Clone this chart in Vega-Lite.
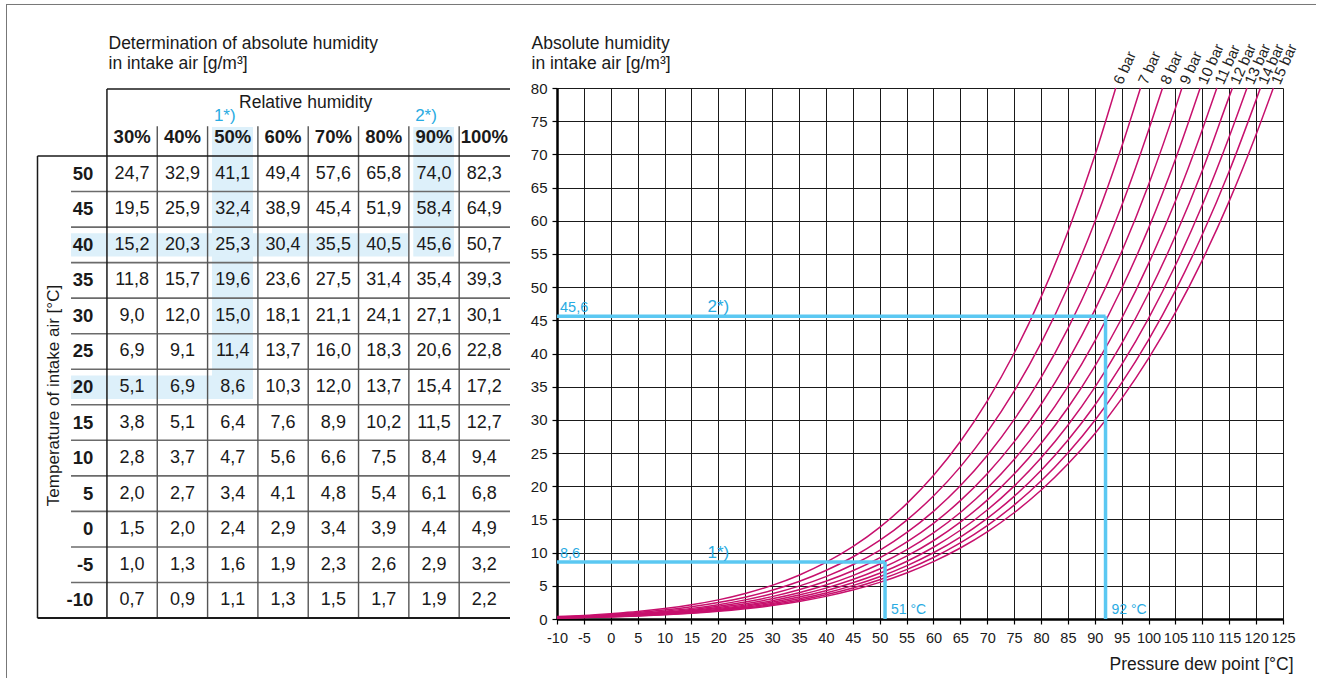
{
"$schema":"https://vega.github.io/schema/vega-lite/v6.json",
"padding":{"left":5,"top":3,"right":0,"bottom":0},
"bounds":"flush",
"spacing":47,
"background":"white",
"config":{"view":{"stroke":null},"font":"Liberation Sans","locale":{"number":{"decimal":",","thousands":".","grouping":[3],"currency":["","\u00a0€"],"minus":"-"}},
 "axis":{"labelColor":"#1a1a1a","domainColor":"#000000","domainWidth":2.5,"tickColor":"#000000","tickSize":5,"tickWidth":1.2,"gridColor":"#1a1a1a","gridWidth":1,"gridOpacity":1},
 "axisX":{"labelFontSize":14.5,"labelPadding":7},
 "axisY":{"labelFontSize":15,"labelPadding":5}},
"datasets":{
"table":[
{"t":50,"rh":30,"v":24.7},{"t":50,"rh":40,"v":32.9},{"t":50,"rh":50,"v":41.1},{"t":50,"rh":60,"v":49.4},{"t":50,"rh":70,"v":57.6},{"t":50,"rh":80,"v":65.8},{"t":50,"rh":90,"v":74.0},{"t":50,"rh":100,"v":82.3},
{"t":45,"rh":30,"v":19.5},{"t":45,"rh":40,"v":25.9},{"t":45,"rh":50,"v":32.4},{"t":45,"rh":60,"v":38.9},{"t":45,"rh":70,"v":45.4},{"t":45,"rh":80,"v":51.9},{"t":45,"rh":90,"v":58.4},{"t":45,"rh":100,"v":64.9},
{"t":40,"rh":30,"v":15.2},{"t":40,"rh":40,"v":20.3},{"t":40,"rh":50,"v":25.3},{"t":40,"rh":60,"v":30.4},{"t":40,"rh":70,"v":35.5},{"t":40,"rh":80,"v":40.5},{"t":40,"rh":90,"v":45.6},{"t":40,"rh":100,"v":50.7},
{"t":35,"rh":30,"v":11.8},{"t":35,"rh":40,"v":15.7},{"t":35,"rh":50,"v":19.6},{"t":35,"rh":60,"v":23.6},{"t":35,"rh":70,"v":27.5},{"t":35,"rh":80,"v":31.4},{"t":35,"rh":90,"v":35.4},{"t":35,"rh":100,"v":39.3},
{"t":30,"rh":30,"v":9.0},{"t":30,"rh":40,"v":12.0},{"t":30,"rh":50,"v":15.0},{"t":30,"rh":60,"v":18.1},{"t":30,"rh":70,"v":21.1},{"t":30,"rh":80,"v":24.1},{"t":30,"rh":90,"v":27.1},{"t":30,"rh":100,"v":30.1},
{"t":25,"rh":30,"v":6.9},{"t":25,"rh":40,"v":9.1},{"t":25,"rh":50,"v":11.4},{"t":25,"rh":60,"v":13.7},{"t":25,"rh":70,"v":16.0},{"t":25,"rh":80,"v":18.3},{"t":25,"rh":90,"v":20.6},{"t":25,"rh":100,"v":22.8},
{"t":20,"rh":30,"v":5.1},{"t":20,"rh":40,"v":6.9},{"t":20,"rh":50,"v":8.6},{"t":20,"rh":60,"v":10.3},{"t":20,"rh":70,"v":12.0},{"t":20,"rh":80,"v":13.7},{"t":20,"rh":90,"v":15.4},{"t":20,"rh":100,"v":17.2},
{"t":15,"rh":30,"v":3.8},{"t":15,"rh":40,"v":5.1},{"t":15,"rh":50,"v":6.4},{"t":15,"rh":60,"v":7.6},{"t":15,"rh":70,"v":8.9},{"t":15,"rh":80,"v":10.2},{"t":15,"rh":90,"v":11.5},{"t":15,"rh":100,"v":12.7},
{"t":10,"rh":30,"v":2.8},{"t":10,"rh":40,"v":3.7},{"t":10,"rh":50,"v":4.7},{"t":10,"rh":60,"v":5.6},{"t":10,"rh":70,"v":6.6},{"t":10,"rh":80,"v":7.5},{"t":10,"rh":90,"v":8.4},{"t":10,"rh":100,"v":9.4},
{"t":5,"rh":30,"v":2.0},{"t":5,"rh":40,"v":2.7},{"t":5,"rh":50,"v":3.4},{"t":5,"rh":60,"v":4.1},{"t":5,"rh":70,"v":4.8},{"t":5,"rh":80,"v":5.4},{"t":5,"rh":90,"v":6.1},{"t":5,"rh":100,"v":6.8},
{"t":0,"rh":30,"v":1.5},{"t":0,"rh":40,"v":2.0},{"t":0,"rh":50,"v":2.4},{"t":0,"rh":60,"v":2.9},{"t":0,"rh":70,"v":3.4},{"t":0,"rh":80,"v":3.9},{"t":0,"rh":90,"v":4.4},{"t":0,"rh":100,"v":4.9},
{"t":-5,"rh":30,"v":1.0},{"t":-5,"rh":40,"v":1.3},{"t":-5,"rh":50,"v":1.6},{"t":-5,"rh":60,"v":1.9},{"t":-5,"rh":70,"v":2.3},{"t":-5,"rh":80,"v":2.6},{"t":-5,"rh":90,"v":2.9},{"t":-5,"rh":100,"v":3.2},
{"t":-10,"rh":30,"v":0.7},{"t":-10,"rh":40,"v":0.9},{"t":-10,"rh":50,"v":1.1},{"t":-10,"rh":60,"v":1.3},{"t":-10,"rh":70,"v":1.5},{"t":-10,"rh":80,"v":1.7},{"t":-10,"rh":90,"v":1.9},{"t":-10,"rh":100,"v":2.2}
],
"temps":[{"t":50},{"t":45},{"t":40},{"t":35},{"t":30},{"t":25},{"t":20},{"t":15},{"t":10},{"t":5},{"t":0},{"t":-5},{"t":-10}],
"cols":[{"rh":30,"label":"30%"},{"rh":40,"label":"40%"},{"rh":50,"label":"50%"},{"rh":60,"label":"60%"},{"rh":70,"label":"70%"},{"rh":80,"label":"80%"},{"rh":90,"label":"90%"},{"rh":100,"label":"100%"}],
"examples":[{"id":"1*)","rh":50,"t":20,"hum":8.6,"dew":51,"dewLabel":"51 °C"},{"id":"2*)","rh":90,"t":40,"hum":45.6,"dew":92,"dewLabel":"92 °C"}],
"curves":[
{"p":6,"T":-10,"h":0.36},{"p":6,"T":-5,"h":0.54},{"p":6,"T":0,"h":0.81},{"p":6,"T":5,"h":1.13},{"p":6,"T":10,"h":1.57},{"p":6,"T":15,"h":2.14},{"p":6,"T":20,"h":2.88},{"p":6,"T":25,"h":3.84},{"p":6,"T":30,"h":5.06},{"p":6,"T":35,"h":6.6},{"p":6,"T":40,"h":8.52},{"p":6,"T":45,"h":10.89},{"p":6,"T":50,"h":13.8},{"p":6,"T":55,"h":17.35},{"p":6,"T":60,"h":21.62},{"p":6,"T":65,"h":26.75},{"p":6,"T":70,"h":32.84},{"p":6,"T":75,"h":40.04},{"p":6,"T":80,"h":48.49},{"p":6,"T":85,"h":58.35},{"p":6,"T":90,"h":69.79},{"p":6,"T":93.9,"h":80},
{"p":7,"T":-10,"h":0.31},{"p":7,"T":-5,"h":0.46},{"p":7,"T":0,"h":0.69},{"p":7,"T":5,"h":0.97},{"p":7,"T":10,"h":1.34},{"p":7,"T":15,"h":1.83},{"p":7,"T":20,"h":2.47},{"p":7,"T":25,"h":3.29},{"p":7,"T":30,"h":4.34},{"p":7,"T":35,"h":5.65},{"p":7,"T":40,"h":7.3},{"p":7,"T":45,"h":9.34},{"p":7,"T":50,"h":11.83},{"p":7,"T":55,"h":14.87},{"p":7,"T":60,"h":18.53},{"p":7,"T":65,"h":22.92},{"p":7,"T":70,"h":28.15},{"p":7,"T":75,"h":34.32},{"p":7,"T":80,"h":41.56},{"p":7,"T":85,"h":50.01},{"p":7,"T":90,"h":59.82},{"p":7,"T":95,"h":71.14},{"p":7,"T":98.5,"h":80},
{"p":8,"T":-10,"h":0.27},{"p":8,"T":-5,"h":0.41},{"p":8,"T":0,"h":0.61},{"p":8,"T":5,"h":0.85},{"p":8,"T":10,"h":1.18},{"p":8,"T":15,"h":1.6},{"p":8,"T":20,"h":2.16},{"p":8,"T":25,"h":2.88},{"p":8,"T":30,"h":3.8},{"p":8,"T":35,"h":4.95},{"p":8,"T":40,"h":6.39},{"p":8,"T":45,"h":8.17},{"p":8,"T":50,"h":10.35},{"p":8,"T":55,"h":13.01},{"p":8,"T":60,"h":16.22},{"p":8,"T":65,"h":20.06},{"p":8,"T":70,"h":24.63},{"p":8,"T":75,"h":30.03},{"p":8,"T":80,"h":36.37},{"p":8,"T":85,"h":43.76},{"p":8,"T":90,"h":52.35},{"p":8,"T":95,"h":62.25},{"p":8,"T":100,"h":73.62},{"p":8,"T":102.6,"h":80},
{"p":9,"T":-10,"h":0.24},{"p":9,"T":-5,"h":0.36},{"p":9,"T":0,"h":0.54},{"p":9,"T":5,"h":0.76},{"p":9,"T":10,"h":1.04},{"p":9,"T":15,"h":1.43},{"p":9,"T":20,"h":1.92},{"p":9,"T":25,"h":2.56},{"p":9,"T":30,"h":3.37},{"p":9,"T":35,"h":4.4},{"p":9,"T":40,"h":5.68},{"p":9,"T":45,"h":7.26},{"p":9,"T":50,"h":9.2},{"p":9,"T":55,"h":11.57},{"p":9,"T":60,"h":14.41},{"p":9,"T":65,"h":17.83},{"p":9,"T":70,"h":21.89},{"p":9,"T":75,"h":26.69},{"p":9,"T":80,"h":32.32},{"p":9,"T":85,"h":38.9},{"p":9,"T":90,"h":46.53},{"p":9,"T":95,"h":55.33},{"p":9,"T":100,"h":65.44},{"p":9,"T":105,"h":76.97},{"p":9,"T":106.2,"h":80},
{"p":10,"T":-10,"h":0.21},{"p":10,"T":-5,"h":0.33},{"p":10,"T":0,"h":0.49},{"p":10,"T":5,"h":0.68},{"p":10,"T":10,"h":0.94},{"p":10,"T":15,"h":1.28},{"p":10,"T":20,"h":1.73},{"p":10,"T":25,"h":2.3},{"p":10,"T":30,"h":3.04},{"p":10,"T":35,"h":3.96},{"p":10,"T":40,"h":5.11},{"p":10,"T":45,"h":6.54},{"p":10,"T":50,"h":8.28},{"p":10,"T":55,"h":10.41},{"p":10,"T":60,"h":12.97},{"p":10,"T":65,"h":16.05},{"p":10,"T":70,"h":19.7},{"p":10,"T":75,"h":24.02},{"p":10,"T":80,"h":29.09},{"p":10,"T":85,"h":35.01},{"p":10,"T":90,"h":41.88},{"p":10,"T":95,"h":49.8},{"p":10,"T":100,"h":58.89},{"p":10,"T":105,"h":69.28},{"p":10,"T":109.6,"h":80},
{"p":11,"T":-10,"h":0.19},{"p":11,"T":-5,"h":0.3},{"p":11,"T":0,"h":0.44},{"p":11,"T":5,"h":0.62},{"p":11,"T":10,"h":0.85},{"p":11,"T":15,"h":1.17},{"p":11,"T":20,"h":1.57},{"p":11,"T":25,"h":2.09},{"p":11,"T":30,"h":2.76},{"p":11,"T":35,"h":3.6},{"p":11,"T":40,"h":4.65},{"p":11,"T":45,"h":5.94},{"p":11,"T":50,"h":7.53},{"p":11,"T":55,"h":9.46},{"p":11,"T":60,"h":11.79},{"p":11,"T":65,"h":14.59},{"p":11,"T":70,"h":17.91},{"p":11,"T":75,"h":21.84},{"p":11,"T":80,"h":26.45},{"p":11,"T":85,"h":31.83},{"p":11,"T":90,"h":38.07},{"p":11,"T":95,"h":45.27},{"p":11,"T":100,"h":53.54},{"p":11,"T":105,"h":62.98},{"p":11,"T":110,"h":73.71},{"p":11,"T":112.7,"h":80},
{"p":12,"T":-10,"h":0.18},{"p":12,"T":-5,"h":0.27},{"p":12,"T":0,"h":0.4},{"p":12,"T":5,"h":0.57},{"p":12,"T":10,"h":0.78},{"p":12,"T":15,"h":1.07},{"p":12,"T":20,"h":1.44},{"p":12,"T":25,"h":1.92},{"p":12,"T":30,"h":2.53},{"p":12,"T":35,"h":3.3},{"p":12,"T":40,"h":4.26},{"p":12,"T":45,"h":5.45},{"p":12,"T":50,"h":6.9},{"p":12,"T":55,"h":8.67},{"p":12,"T":60,"h":10.81},{"p":12,"T":65,"h":13.37},{"p":12,"T":70,"h":16.42},{"p":12,"T":75,"h":20.02},{"p":12,"T":80,"h":24.24},{"p":12,"T":85,"h":29.18},{"p":12,"T":90,"h":34.9},{"p":12,"T":95,"h":41.5},{"p":12,"T":100,"h":49.08},{"p":12,"T":105,"h":57.73},{"p":12,"T":110,"h":67.57},{"p":12,"T":115,"h":78.7},{"p":12,"T":115.6,"h":80},
{"p":13,"T":-10,"h":0.16},{"p":13,"T":-5,"h":0.25},{"p":13,"T":0,"h":0.37},{"p":13,"T":5,"h":0.52},{"p":13,"T":10,"h":0.72},{"p":13,"T":15,"h":0.99},{"p":13,"T":20,"h":1.33},{"p":13,"T":25,"h":1.77},{"p":13,"T":30,"h":2.34},{"p":13,"T":35,"h":3.04},{"p":13,"T":40,"h":3.93},{"p":13,"T":45,"h":5.03},{"p":13,"T":50,"h":6.37},{"p":13,"T":55,"h":8.01},{"p":13,"T":60,"h":9.98},{"p":13,"T":65,"h":12.34},{"p":13,"T":70,"h":15.16},{"p":13,"T":75,"h":18.48},{"p":13,"T":80,"h":22.38},{"p":13,"T":85,"h":26.93},{"p":13,"T":90,"h":32.21},{"p":13,"T":95,"h":38.31},{"p":13,"T":100,"h":45.3},{"p":13,"T":105,"h":53.29},{"p":13,"T":110,"h":62.37},{"p":13,"T":115,"h":72.65},{"p":13,"T":118.3,"h":80},
{"p":14,"T":-10,"h":0.15},{"p":14,"T":-5,"h":0.23},{"p":14,"T":0,"h":0.35},{"p":14,"T":5,"h":0.49},{"p":14,"T":10,"h":0.67},{"p":14,"T":15,"h":0.92},{"p":14,"T":20,"h":1.24},{"p":14,"T":25,"h":1.65},{"p":14,"T":30,"h":2.17},{"p":14,"T":35,"h":2.83},{"p":14,"T":40,"h":3.65},{"p":14,"T":45,"h":4.67},{"p":14,"T":50,"h":5.92},{"p":14,"T":55,"h":7.44},{"p":14,"T":60,"h":9.27},{"p":14,"T":65,"h":11.46},{"p":14,"T":70,"h":14.07},{"p":14,"T":75,"h":17.16},{"p":14,"T":80,"h":20.78},{"p":14,"T":85,"h":25.01},{"p":14,"T":90,"h":29.91},{"p":14,"T":95,"h":35.57},{"p":14,"T":100,"h":42.07},{"p":14,"T":105,"h":49.48},{"p":14,"T":110,"h":57.92},{"p":14,"T":115,"h":67.46},{"p":14,"T":120,"h":78.21},{"p":14,"T":120.8,"h":80},
{"p":15,"T":-10,"h":0.14},{"p":15,"T":-5,"h":0.22},{"p":15,"T":0,"h":0.32},{"p":15,"T":5,"h":0.45},{"p":15,"T":10,"h":0.63},{"p":15,"T":15,"h":0.86},{"p":15,"T":20,"h":1.15},{"p":15,"T":25,"h":1.54},{"p":15,"T":30,"h":2.02},{"p":15,"T":35,"h":2.64},{"p":15,"T":40,"h":3.41},{"p":15,"T":45,"h":4.36},{"p":15,"T":50,"h":5.52},{"p":15,"T":55,"h":6.94},{"p":15,"T":60,"h":8.65},{"p":15,"T":65,"h":10.7},{"p":15,"T":70,"h":13.13},{"p":15,"T":75,"h":16.01},{"p":15,"T":80,"h":19.39},{"p":15,"T":85,"h":23.34},{"p":15,"T":90,"h":27.92},{"p":15,"T":95,"h":33.2},{"p":15,"T":100,"h":39.26},{"p":15,"T":105,"h":46.18},{"p":15,"T":110,"h":54.06},{"p":15,"T":115,"h":62.96},{"p":15,"T":120,"h":73.0},{"p":15,"T":123.2,"h":80}
],
"barLabels":[{"p":6,"T":93.9,"label":"6 bar"},{"p":7,"T":98.5,"label":"7 bar"},{"p":8,"T":102.6,"label":"8 bar"},{"p":9,"T":106.2,"label":"9 bar"},{"p":10,"T":109.6,"label":"10 bar"},{"p":11,"T":112.7,"label":"11 bar"},{"p":12,"T":115.6,"label":"12 bar"},{"p":13,"T":118.3,"label":"13 bar"},{"p":14,"T":120.8,"label":"14 bar"},{"p":15,"T":123.2,"label":"15 bar"}]
},
"hconcat":[
{
"width":473,"height":531,
"layer":[
{"data":{"values":[{}]},"mark":{"type":"rect","color":"#ddf0fa"},
 "encoding":{
  "x":{"datum":45.88,"type":"quantitative","scale":{"domain":[11.1,105.1],"nice":false,"zero":false},
   "axis":{"orient":"top","domain":false,"ticks":false,"labels":false,"grid":false,"title":["Determination of absolute humidity","in intake air [g/m³]"],"titleX":71,"titleY":-40,"titleAlign":"left","titleAngle":0,"titleBaseline":"alphabetic","titleFontSize":17.5,"titleFontWeight":"normal","titleColor":"#1a1a1a","titleLineHeight":20}},
  "x2":{"datum":54.03},
  "y":{"datum":18.3,"type":"quantitative","scale":{"domain":[-12.64,62.07],"nice":false,"zero":false},
   "axis":{"orient":"left","domain":false,"ticks":false,"labels":false,"grid":false,"title":"Temperature of intake air [°C]","titleX":16,"titleY":307,"titleAngle":-90,"titleAlign":"center","titleBaseline":"middle","titleFontSize":17,"titleFontWeight":"normal","titleColor":"#1a1a1a"}},
  "y2":{"datum":56.58}}},
{"data":{"values":[{}]},"mark":{"type":"rect","color":"#ddf0fa"},
 "encoding":{"x":{"datum":85.88,"type":"quantitative"},"x2":{"datum":93.97},"y":{"datum":38.38,"type":"quantitative"},"y2":{"datum":56.58}}},
{"data":{"values":[{}]},"mark":{"type":"rect","color":"#ddf0fa"},
 "encoding":{"x":{"datum":17.86,"type":"quantitative"},"x2":{"datum":84.83},"y":{"datum":38.38,"type":"quantitative"},"y2":{"datum":41.62}}},
{"data":{"values":[{}]},"mark":{"type":"rect","color":"#ddf0fa"},
 "encoding":{"x":{"datum":17.86,"type":"quantitative"},"x2":{"datum":45.88},"y":{"datum":18.3,"type":"quantitative"},"y2":{"datum":21.62}}},
{"data":{"name":"temps"},"transform":[{"filter":"datum.t > -10"}],"mark":{"type":"rule","color":"#6b6b6b","strokeWidth":1.6,"yOffset":17.77},
 "encoding":{"y":{"field":"t","type":"quantitative"},"x":{"datum":17.86,"type":"quantitative"},"x2":{"datum":105.1}}},
{"data":{"name":"cols"},"transform":[{"filter":"datum.rh > 30"}],"mark":{"type":"rule","color":"#555555","strokeWidth":1.4,"xOffset":-25.16},
 "encoding":{"x":{"field":"rh","type":"quantitative"},"y":{"datum":-12.5,"type":"quantitative"},"y2":{"datum":56.7}}},
{"data":{"values":[{}]},"mark":{"type":"rule","color":"#1a1a1a","strokeWidth":1.5},
 "encoding":{"x":{"datum":11.2,"type":"quantitative"},"x2":{"datum":105.1},"y":{"datum":52.5,"type":"quantitative"}}},
{"data":{"values":[{}]},"mark":{"type":"rule","color":"#1a1a1a","strokeWidth":2},
 "encoding":{"x":{"datum":11.2,"type":"quantitative"},"x2":{"datum":105.1},"y":{"datum":-12.5,"type":"quantitative"}}},
{"data":{"values":[{}]},"mark":{"type":"rule","color":"#1a1a1a","strokeWidth":1.5},
 "encoding":{"x":{"datum":11.2,"type":"quantitative"},"y":{"datum":-12.5,"type":"quantitative"},"y2":{"datum":52.5}}},
{"data":{"values":[{}]},"mark":{"type":"rule","color":"#1a1a1a","strokeWidth":1.5},
 "encoding":{"x":{"datum":25,"type":"quantitative"},"x2":{"datum":105.1},"y":{"datum":61.93,"type":"quantitative"}}},
{"data":{"values":[{}]},"mark":{"type":"rule","color":"#1a1a1a","strokeWidth":1.5},
 "encoding":{"x":{"datum":25,"type":"quantitative"},"y":{"datum":-12.5,"type":"quantitative"},"y2":{"datum":61.93}}},
{"data":{"name":"table"},"mark":{"type":"text","fontSize":18,"color":"#1a1a1a","baseline":"middle"},
 "encoding":{"x":{"field":"rh","type":"quantitative"},"y":{"field":"t","type":"quantitative"},"text":{"field":"v","type":"quantitative","format":".1f"}}},
{"data":{"name":"temps"},"mark":{"type":"text","fontSize":18.5,"fontWeight":"bold","align":"right","baseline":"middle","color":"#1a1a1a"},
 "encoding":{"x":{"datum":22.3,"type":"quantitative"},"y":{"field":"t","type":"quantitative"},"text":{"field":"t","type":"nominal"}}},
{"data":{"name":"cols"},"mark":{"type":"text","fontSize":18.5,"fontWeight":"bold","baseline":"middle","color":"#1a1a1a"},
 "encoding":{"x":{"field":"rh","type":"quantitative"},"y":{"datum":55.18,"type":"quantitative"},"text":{"field":"label","type":"nominal"}}},
{"data":{"values":[{}]},"mark":{"type":"text","fontSize":17.5,"baseline":"middle","color":"#1a1a1a","text":"Relative humidity"},
 "encoding":{"x":{"datum":64.5,"type":"quantitative"},"y":{"datum":59.9,"type":"quantitative"}}},
{"data":{"name":"examples"},"mark":{"type":"text","fontSize":17,"baseline":"middle","color":"#29abe2","dx":-8},
 "encoding":{"x":{"field":"rh","type":"quantitative"},"y":{"datum":58.1,"type":"quantitative"},"text":{"field":"id","type":"nominal"}}},
{"data":{"values":[{}]},"mark":{"type":"rule","color":"#777777","strokeWidth":1},
 "encoding":{"x":{"datum":4.94,"type":"quantitative"},"x2":{"datum":265.28},"y":{"datum":73.82,"type":"quantitative"}}},
{"data":{"values":[{}]},"mark":{"type":"rule","color":"#777777","strokeWidth":1},
 "encoding":{"x":{"datum":5.04,"type":"quantitative"},"y":{"datum":73.82,"type":"quantitative"},"y2":{"datum":-20.94}}}
]
},
{
"width":726,"height":531,
"layer":[
{"data":{"name":"curves"},"mark":{"type":"line","color":"#c7106d","strokeWidth":1.5,"interpolate":"monotone"},
 "encoding":{
  "x":{"field":"T","type":"quantitative","scale":{"domain":[-10,125],"nice":false,"zero":false},
   "axis":{"values":[-10,-5,0,5,10,15,20,25,30,35,40,45,50,55,60,65,70,75,80,85,90,95,100,105,110,115,120,125],"grid":true,"labelExpr":"'' + datum.value","labelFlush":false,"labelOverlap":false,"labelBound":false,"title":"Pressure dew point [°C]","titleX":736,"titleY":50,"titleAlign":"right","titleAngle":0,"titleBaseline":"alphabetic","titleFontSize":17.5,"titleFontWeight":"normal","titleColor":"#1a1a1a"}},
  "y":{"field":"h","type":"quantitative","scale":{"domain":[0,80],"nice":false,"zero":false},
   "axis":{"values":[0,5,10,15,20,25,30,35,40,45,50,55,60,65,70,75,80],"grid":true,"labelFlush":false,"labelOverlap":false,"labelBound":false,"title":["Absolute humidity","in intake air [g/m³]"],"titleX":-26,"titleY":-40,"titleAlign":"left","titleAngle":0,"titleBaseline":"alphabetic","titleFontSize":17.5,"titleFontWeight":"normal","titleColor":"#1a1a1a","titleLineHeight":20}},
  "detail":{"field":"p","type":"nominal"}}},
{"data":{"name":"examples"},"mark":{"type":"rule","color":"#5bc8f2","strokeWidth":3.5},
 "encoding":{
  "x":{"field":"dew","type":"quantitative",
   "axis":{"values":[-10,-5,0,5,10,15,20,25,30,35,40,45,50,55,60,65,70,75,80,85,90,95,100,105,110,115,120,125],"grid":true,"labelExpr":"'' + datum.value","labelFlush":false,"labelOverlap":false,"labelBound":false,"title":"Pressure dew point [°C]","titleX":736,"titleY":50,"titleAlign":"right","titleAngle":0,"titleBaseline":"alphabetic","titleFontSize":17.5,"titleFontWeight":"normal","titleColor":"#1a1a1a"}},
  "x2":{"datum":-10},
  "y":{"field":"hum","type":"quantitative",
   "axis":{"values":[0,5,10,15,20,25,30,35,40,45,50,55,60,65,70,75,80],"grid":true,"labelFlush":false,"labelOverlap":false,"labelBound":false,"title":["Absolute humidity","in intake air [g/m³]"],"titleX":-26,"titleY":-40,"titleAlign":"left","titleAngle":0,"titleBaseline":"alphabetic","titleFontSize":17.5,"titleFontWeight":"normal","titleColor":"#1a1a1a","titleLineHeight":20}}}},
{"data":{"name":"examples"},"mark":{"type":"rule","color":"#5bc8f2","strokeWidth":3.5},
 "encoding":{
  "x":{"field":"dew","type":"quantitative",
   "axis":{"values":[-10,-5,0,5,10,15,20,25,30,35,40,45,50,55,60,65,70,75,80,85,90,95,100,105,110,115,120,125],"grid":true,"labelExpr":"'' + datum.value","labelFlush":false,"labelOverlap":false,"labelBound":false,"title":"Pressure dew point [°C]","titleX":736,"titleY":50,"titleAlign":"right","titleAngle":0,"titleBaseline":"alphabetic","titleFontSize":17.5,"titleFontWeight":"normal","titleColor":"#1a1a1a"}},
  "y":{"field":"hum","type":"quantitative",
   "axis":{"values":[0,5,10,15,20,25,30,35,40,45,50,55,60,65,70,75,80],"grid":true,"labelFlush":false,"labelOverlap":false,"labelBound":false,"title":["Absolute humidity","in intake air [g/m³]"],"titleX":-26,"titleY":-40,"titleAlign":"left","titleAngle":0,"titleBaseline":"alphabetic","titleFontSize":17.5,"titleFontWeight":"normal","titleColor":"#1a1a1a","titleLineHeight":20}},
  "y2":{"datum":0}}},
{"data":{"name":"examples"},"mark":{"type":"text","align":"left","baseline":"alphabetic","dx":3,"dy":-4,"fontSize":14.5,"color":"#29abe2"},
 "encoding":{
  "x":{"datum":-10,"type":"quantitative",
   "axis":{"values":[-10,-5,0,5,10,15,20,25,30,35,40,45,50,55,60,65,70,75,80,85,90,95,100,105,110,115,120,125],"grid":true,"labelExpr":"'' + datum.value","labelFlush":false,"labelOverlap":false,"labelBound":false,"title":"Pressure dew point [°C]","titleX":736,"titleY":50,"titleAlign":"right","titleAngle":0,"titleBaseline":"alphabetic","titleFontSize":17.5,"titleFontWeight":"normal","titleColor":"#1a1a1a"}},
  "y":{"field":"hum","type":"quantitative",
   "axis":{"values":[0,5,10,15,20,25,30,35,40,45,50,55,60,65,70,75,80],"grid":true,"labelFlush":false,"labelOverlap":false,"labelBound":false,"title":["Absolute humidity","in intake air [g/m³]"],"titleX":-26,"titleY":-40,"titleAlign":"left","titleAngle":0,"titleBaseline":"alphabetic","titleFontSize":17.5,"titleFontWeight":"normal","titleColor":"#1a1a1a","titleLineHeight":20}},
  "text":{"field":"hum","type":"quantitative","format":".1f"}}},
{"data":{"name":"examples"},"mark":{"type":"text","align":"center","baseline":"alphabetic","dy":-4,"fontSize":17,"color":"#29abe2"},
 "encoding":{
  "x":{"datum":20,"type":"quantitative",
   "axis":{"values":[-10,-5,0,5,10,15,20,25,30,35,40,45,50,55,60,65,70,75,80,85,90,95,100,105,110,115,120,125],"grid":true,"labelExpr":"'' + datum.value","labelFlush":false,"labelOverlap":false,"labelBound":false,"title":"Pressure dew point [°C]","titleX":736,"titleY":50,"titleAlign":"right","titleAngle":0,"titleBaseline":"alphabetic","titleFontSize":17.5,"titleFontWeight":"normal","titleColor":"#1a1a1a"}},
  "y":{"field":"hum","type":"quantitative",
   "axis":{"values":[0,5,10,15,20,25,30,35,40,45,50,55,60,65,70,75,80],"grid":true,"labelFlush":false,"labelOverlap":false,"labelBound":false,"title":["Absolute humidity","in intake air [g/m³]"],"titleX":-26,"titleY":-40,"titleAlign":"left","titleAngle":0,"titleBaseline":"alphabetic","titleFontSize":17.5,"titleFontWeight":"normal","titleColor":"#1a1a1a","titleLineHeight":20}},
  "text":{"field":"id","type":"nominal"}}},
{"data":{"name":"examples"},"mark":{"type":"text","align":"left","baseline":"alphabetic","dx":6,"dy":-5,"fontSize":14,"color":"#29abe2"},
 "encoding":{
  "x":{"field":"dew","type":"quantitative",
   "axis":{"values":[-10,-5,0,5,10,15,20,25,30,35,40,45,50,55,60,65,70,75,80,85,90,95,100,105,110,115,120,125],"grid":true,"labelExpr":"'' + datum.value","labelFlush":false,"labelOverlap":false,"labelBound":false,"title":"Pressure dew point [°C]","titleX":736,"titleY":50,"titleAlign":"right","titleAngle":0,"titleBaseline":"alphabetic","titleFontSize":17.5,"titleFontWeight":"normal","titleColor":"#1a1a1a"}},
  "y":{"datum":0,"type":"quantitative",
   "axis":{"values":[0,5,10,15,20,25,30,35,40,45,50,55,60,65,70,75,80],"grid":true,"labelFlush":false,"labelOverlap":false,"labelBound":false,"title":["Absolute humidity","in intake air [g/m³]"],"titleX":-26,"titleY":-40,"titleAlign":"left","titleAngle":0,"titleBaseline":"alphabetic","titleFontSize":17.5,"titleFontWeight":"normal","titleColor":"#1a1a1a","titleLineHeight":20}},
  "text":{"field":"dewLabel","type":"nominal"}}},
{"data":{"name":"barLabels"},"mark":{"type":"text","angle":-66,"align":"left","baseline":"middle","dx":5,"fontSize":15,"color":"#222222"},
 "encoding":{
  "x":{"field":"T","type":"quantitative",
   "axis":{"values":[-10,-5,0,5,10,15,20,25,30,35,40,45,50,55,60,65,70,75,80,85,90,95,100,105,110,115,120,125],"grid":true,"labelExpr":"'' + datum.value","labelFlush":false,"labelOverlap":false,"labelBound":false,"title":"Pressure dew point [°C]","titleX":736,"titleY":50,"titleAlign":"right","titleAngle":0,"titleBaseline":"alphabetic","titleFontSize":17.5,"titleFontWeight":"normal","titleColor":"#1a1a1a"}},
  "y":{"datum":80,"type":"quantitative",
   "axis":{"values":[0,5,10,15,20,25,30,35,40,45,50,55,60,65,70,75,80],"grid":true,"labelFlush":false,"labelOverlap":false,"labelBound":false,"title":["Absolute humidity","in intake air [g/m³]"],"titleX":-26,"titleY":-40,"titleAlign":"left","titleAngle":0,"titleBaseline":"alphabetic","titleFontSize":17.5,"titleFontWeight":"normal","titleColor":"#1a1a1a","titleLineHeight":20}},
  "text":{"field":"label","type":"nominal"}}}
]
}
]
}
